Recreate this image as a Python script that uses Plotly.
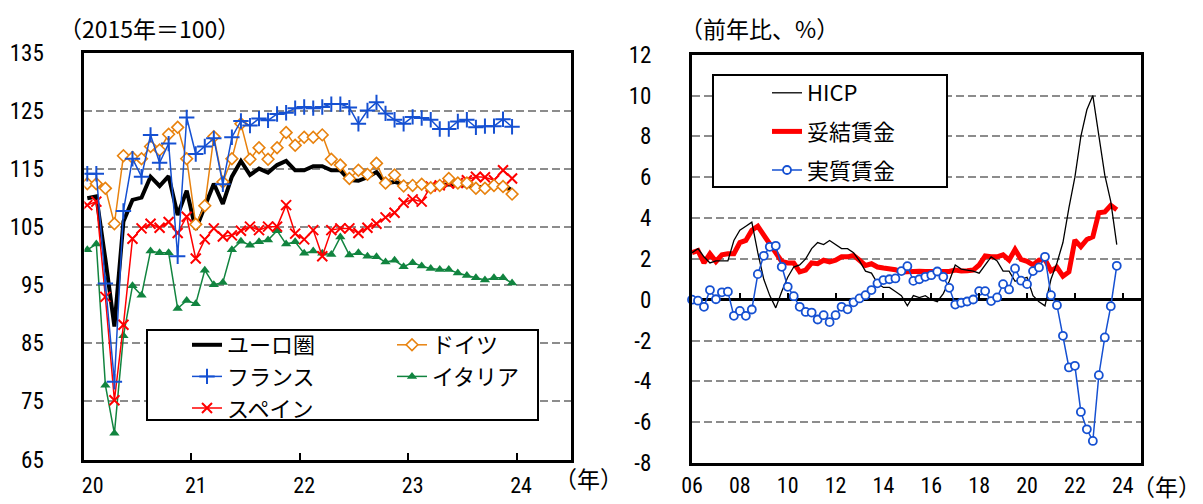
import plotly.graph_objects as go

# ---------------- data: left panel (monthly, Jan 2020 - Dec 2023, 2015=100) ----------------
months = list(range(48))
euro = [110.0, 110.3, 99.5, 87.9, 106.0, 109.7, 110.1, 113.7, 112.1, 113.8, 107.1, 111.3,
        104.6, 108.5, 112.5, 109.0, 113.7, 116.4, 114.0, 115.1, 114.4, 115.7, 116.4, 114.8,
        114.8, 115.5, 115.5, 114.8, 114.8, 113.1, 113.0, 113.6, 114.5, 112.6, 112.8, 112.4,
        112.4, 112.3, 112.2, 112.2, 112.4, 112.3, 112.2, 111.9, 112.0, 112.0, 112.4, 111.3]
germany = [112.5, 112.5, 111.7, 105.6, 117.3, 117.0, 116.8, 118.9, 118.3, 121.0, 122.2, 116.8,
           105.5, 108.7, 120.6, 112.8, 116.8, 122.8, 116.7, 118.7, 116.7, 118.7, 121.3, 119.1,
           120.5, 120.5, 120.9, 116.7, 115.7, 113.4, 114.8, 114.1, 116.0, 112.6, 114.0, 112.1,
           112.2, 112.4, 111.8, 112.2, 113.4, 112.6, 112.6, 111.7, 111.7, 112.2, 112.0, 110.7]
france = [114.2, 114.2, 95.3, 78.4, 107.8, 116.8, 113.7, 120.9, 116.1, 119.4, 100.0, 123.9,
          117.6, 118.9, 120.3, 112.4, 120.5, 123.3, 122.5, 123.7, 123.4, 124.5, 124.7, 125.5,
          125.7, 125.5, 125.7, 126.2, 126.2, 125.6, 122.8, 125.1, 126.5, 124.6, 123.5, 122.8,
          124.0, 123.8, 123.5, 121.9, 121.9, 123.2, 123.5, 122.2, 122.4, 122.4, 123.6, 122.3]
italy = [101.1, 102.1, 77.8, 69.5, 86.3, 94.9, 93.3, 100.9, 100.6, 100.6, 91.0, 92.4,
         91.8, 97.6, 95.1, 95.5, 101.1, 102.6, 101.9, 102.5, 102.8, 104.4, 102.1, 102.5,
         100.5, 100.9, 100.5, 100.3, 103.3, 100.2, 100.6, 100.0, 99.9, 99.0, 99.3, 98.2,
         98.9, 98.3, 97.9, 97.7, 97.7, 97.1, 96.7, 96.3, 95.9, 96.3, 96.3, 95.4]
spain = [108.8, 109.4, 93.0, 75.2, 88.2, 103.0, 104.8, 105.6, 104.9, 105.9, 104.0, 106.8,
         99.6, 102.9, 104.8, 103.4, 103.6, 104.4, 105.1, 104.5, 105.1, 105.1, 108.8, 103.9,
         102.9, 104.5, 100.0, 104.5, 104.8, 104.8, 104.0, 104.9, 105.6, 106.7, 107.5, 109.2,
         109.8, 109.4, 112.0, 112.2, 112.5, 112.6, 113.1, 113.7, 113.6, 113.1, 114.8, 113.4]
left_label_pos = [0.6, 12, 24, 36, 48]
left_labels = ["20", "21", "22", "23", "24"]
left_tick_marks = [11.5, 23.5, 35.5, 47.5]
left_yticks = [65, 75, 85, 95, 105, 115, 125, 135]

# ---------------- data: right panel (quarterly, 2006Q1 - 2023Q4, y/y %) ----------------
quarters = list(range(72))
hicp = [2.3, 2.5, 2.1, 1.8, 1.9, 1.9, 1.9, 2.9, 3.4, 3.6, 3.8, 2.3,
        1.0, 0.2, -0.4, 0.4, 1.1, 1.6, 1.7, 2.0, 2.5, 2.8, 2.7, 2.9,
        2.7, 2.5, 2.5, 2.3, 1.9, 1.4, 1.3, 0.8, 0.6, 0.6, 0.4, 0.2,
        -0.3, 0.2, 0.1, 0.2, 0.0, -0.1, 0.3, 0.9, 1.7, 1.5, 1.45, 1.4,
        1.3, 1.7, 2.1, 1.9, 1.4, 1.4, 0.9, 1.0, 1.1, 0.2, -0.1, -0.3,
        1.0, 1.8, 2.8, 4.5, 6.0, 8.0, 9.3, 10.0, 8.0, 6.1, 4.8, 2.7]
negotiated = [2.3, 2.4, 1.8, 2.25, 1.87, 2.2, 2.25, 2.25, 2.8, 2.9, 3.4, 3.6,
              3.16, 2.7, 2.25, 1.87, 1.8, 1.8, 1.36, 1.45, 1.8, 1.76, 1.93, 1.85,
              1.93, 2.1, 2.1, 2.17, 1.93, 1.68, 1.76, 1.6, 1.55, 1.52, 1.47, 1.36,
              1.39, 1.36, 1.39, 1.38, 1.38, 1.4, 1.36, 1.38, 1.45, 1.4, 1.42, 1.45,
              1.7, 2.14, 2.1, 2.1, 2.2, 1.94, 2.46, 1.97, 1.88, 1.7, 1.94, 1.97,
              1.41, 1.58, 1.15, 1.36, 2.92, 2.6, 2.95, 3.08, 4.26, 4.3, 4.62, 4.4]
real_wage = [0.0, -0.05, -0.35, 0.47, 0.02, 0.36, 0.39, -0.79, -0.55, -0.79, -0.48, 1.25,
             2.15, 2.59, 2.64, 1.61, 0.63, 0.17, -0.35, -0.6, -0.63, -0.97, -0.76, -1.1,
             -0.76, -0.35, -0.47, -0.13, 0.06, 0.22, 0.47, 0.8, 0.96, 1.0, 1.04, 1.4,
             1.64, 0.92, 1.0, 1.12, 1.2, 1.38, 1.12, 0.58, -0.24, -0.15, -0.09, 0.01,
             0.42, 0.42, -0.07, 0.11, 0.76, 0.5, 1.53, 0.93, 0.76, 1.4, 1.58, 2.1,
             0.22, -0.27, -1.77, -3.32, -3.24, -5.5, -6.35, -6.92, -3.7, -1.85, -0.32, 1.66]
right_label_pos = [0, 8, 16, 24, 32, 40, 48, 56, 64, 72]
right_labels = ["06", "08", "10", "12", "14", "16", "18", "20", "22", "24"]
right_yticks = [-8, -6, -4, -2, 0, 2, 4, 6, 8, 10, 12]

# ---------------- styling ----------------
W, H = 1203, 504
JP = "Noto Sans CJK JP"
NUM = "Liberation Sans Narrow, Roboto Condensed, Noto Sans CJK JP, sans-serif"
BLUE = "#1550D2"
ORANGE = "#E8820E"
RED = "#FF0000"
GREEN = "#11843F"
GRID = "#8C8C8C"


def fx(p):
    return p / W


def fy(p):
    return 1 - p / H


fig = go.Figure()

# left panel
fig.add_trace(go.Scatter(x=months, y=euro, name="ユーロ圏", mode="lines",
                         line=dict(color="black", width=4), legend="legend", legendrank=1))
fig.add_trace(go.Scatter(x=months, y=italy, name="イタリア", mode="lines+markers",
                         line=dict(color=GREEN, width=1.5),
                         marker=dict(symbol="triangle-up", size=9, color=GREEN),
                         legend="legend2", legendrank=2))
fig.add_trace(go.Scatter(x=months, y=spain, name="スペイン", mode="lines+markers",
                         line=dict(color=RED, width=1.5),
                         marker=dict(symbol="x-thin", size=10, line=dict(color=RED, width=2)),
                         legend="legend", legendrank=3))
fig.add_trace(go.Scatter(x=months, y=germany, name="ドイツ", mode="lines+markers",
                         line=dict(color=ORANGE, width=1.5),
                         marker=dict(symbol="diamond", size=9, color="white",
                                     line=dict(color=ORANGE, width=1.6)),
                         legend="legend2", legendrank=1))
fig.add_trace(go.Scatter(x=months, y=france, name="フランス", mode="lines+markers",
                         line=dict(color=BLUE, width=1.5),
                         marker=dict(symbol="cross-thin", size=11, line=dict(color=BLUE, width=2)),
                         legend="legend", legendrank=2))

# right panel
fig.add_trace(go.Scatter(x=quarters, y=negotiated, name="妥結賃金", mode="lines",
                         line=dict(color=RED, width=5), xaxis="x2", yaxis="y2",
                         legend="legend3", legendrank=2, legendgroup="b"))
fig.add_trace(go.Scatter(x=quarters, y=hicp, name="HICP", mode="lines",
                         line=dict(color="black", width=1.3), xaxis="x2", yaxis="y2",
                         legend="legend3", legendrank=1, legendgroup="a"))
fig.add_trace(go.Scatter(x=quarters, y=real_wage, name="実質賃金", mode="lines+markers",
                         line=dict(color=BLUE, width=1.5),
                         marker=dict(symbol="circle", size=8, color="white",
                                     line=dict(color=BLUE, width=1.8)),
                         xaxis="x2", yaxis="y2", cliponaxis=False,
                         legend="legend3", legendrank=3, legendgroup="c"))
# helper trace so the zero-line tick axis is drawn
fig.add_trace(go.Scatter(x=[None], y=[None], xaxis="x3", yaxis="y2",
                         showlegend=False, hoverinfo="skip"))

frame = dict(showline=True, linecolor="black", linewidth=3, mirror=True, zeroline=False)
num_font = dict(family=NUM, size=23, color="black")
xnum_font = dict(family=NUM, size=22, color="black")
jp_font = dict(family=JP, size=23, color="black")

fig.update_layout(
    width=W, height=H, autosize=False,
    margin=dict(l=0, r=0, t=0, b=0, autoexpand=False),
    paper_bgcolor="white", plot_bgcolor="white",
    showlegend=True,
    xaxis=dict(domain=[fx(84.4), fx(570.8)], range=[-0.32, 53.5], anchor="y",
               tickmode="array", tickvals=left_label_pos, ticktext=left_labels,
               ticks="", showgrid=False, tickfont=xnum_font, ticklabelstandoff=4,
               minor=dict(tickmode="array", tickvals=left_tick_marks, ticks="inside",
                          ticklen=7, tickwidth=2, tickcolor="black", showgrid=False),
               **frame),
    yaxis=dict(domain=[fy(459.5), fy(53)], range=[65, 135], anchor="x",
               tickmode="array", tickvals=left_yticks,
               ticks="", showgrid=True, gridcolor=GRID, gridwidth=1.5, griddash="8px,4px",
               tickfont=num_font, ticklabelstandoff=33, **frame),
    xaxis2=dict(domain=[fx(692), fx(1140.7)], range=[0, 75], anchor="y2",
                tickmode="array", tickvals=right_label_pos, ticktext=right_labels,
                ticks="", showgrid=False, tickfont=xnum_font, ticklabelstandoff=1,
                **frame),
    yaxis2=dict(domain=[fy(463), fy(54.7)], range=[-8, 12], anchor="x2",
                tickmode="array", tickvals=right_yticks, ticktext=[str(v) for v in right_yticks],
                ticks="", showgrid=True, gridcolor=GRID, gridwidth=1.5, griddash="8px,4px",
                tickfont=num_font, ticklabelstandoff=33,
                showline=True, linecolor="black", linewidth=3, mirror=True,
                zeroline=True, zerolinecolor="black", zerolinewidth=2.5),
    xaxis3=dict(overlaying="x2", anchor="free",
                position=fy(463) + 0.4 * (fy(54.7) - fy(463)),
                range=[0, 75], tickmode="array", tickvals=right_label_pos[1:],
                ticks="inside", ticklen=7, tickwidth=2, tickcolor="black",
                showticklabels=False, showgrid=False, showline=False, zeroline=False),
    legend=dict(x=fx(187), y=fy(324), xanchor="left", yanchor="top",
                bgcolor="rgba(0,0,0,0)", borderwidth=0,
                font=dict(family=JP, size=22, color="black"), traceorder="normal"),
    legend2=dict(x=fx(392), y=fy(324), xanchor="left", yanchor="top",
                 bgcolor="rgba(0,0,0,0)", borderwidth=0,
                 font=dict(family=JP, size=22, color="black"), traceorder="normal"),
    legend3=dict(x=fx(767), y=fy(72), xanchor="left", yanchor="top",
                 bgcolor="rgba(0,0,0,0)", borderwidth=0, tracegroupgap=7,
                 font=dict(family=JP, size=22, color="black"), traceorder="grouped"),
    shapes=[
        dict(type="rect", xref="paper", yref="paper", x0=fx(147), x1=fx(538), y0=fy(420), y1=fy(330),
             line=dict(color="black", width=2), fillcolor="white", layer="above"),
        dict(type="rect", xref="paper", yref="paper", x0=fx(713), x1=fx(947), y0=fy(187), y1=fy(75),
             line=dict(color="black", width=2), fillcolor="white", layer="above"),
    ],
    annotations=[
        dict(text="（2015年＝100）", x=fx(57), y=fy(28), xref="paper", yref="paper",
             xanchor="left", yanchor="middle", showarrow=False, font=jp_font),
        dict(text="（前年比、%）", x=fx(678), y=fy(28), xref="paper", yref="paper",
             xanchor="left", yanchor="middle", showarrow=False, font=jp_font),
        dict(text="（年）", x=fx(552), y=fy(478), xref="paper", yref="paper",
             xanchor="left", yanchor="middle", showarrow=False, font=jp_font),
        dict(text="（年）", x=1.0, y=fy(486), xref="paper", yref="paper",
             xanchor="right", yanchor="middle", showarrow=False, font=jp_font),
    ],
)

fig.write_html("out.html", config={"displayModeBar": False},
               post_script="document.body.style.margin='0px';document.body.style.overflow='hidden';")
